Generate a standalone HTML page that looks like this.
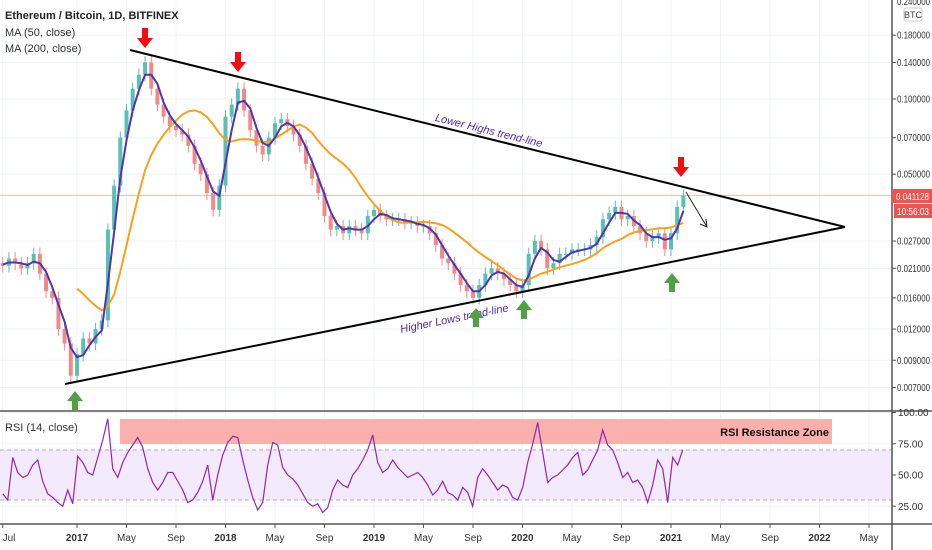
<!DOCTYPE html>
<html><head><meta charset="utf-8"><style>
html,body{margin:0;padding:0;background:#fff;}
svg{display:block;font-family:"Liberation Sans",sans-serif;}
</style></head><body>
<svg id="c" width="932" height="550"></svg>
<script>
// ---- data ----
const startMonth = -6.5; // months from Jan 2017, half-month steps
const closes = [0.022,0.0215,0.023,0.022,0.021,0.022,0.024,0.020,0.017,0.016,0.012,0.0105,0.0078,0.0095,0.011,0.0105,0.012,0.013,0.030,0.045,0.07,0.09,0.11,0.125,0.14,0.11,0.095,0.085,0.078,0.075,0.072,0.065,0.055,0.05,0.042,0.036,0.045,0.085,0.095,0.11,0.09,0.075,0.065,0.06,0.07,0.08,0.083,0.078,0.072,0.065,0.055,0.048,0.042,0.034,0.03,0.031,0.029,0.031,0.030,0.029,0.034,0.036,0.034,0.033,0.033,0.033,0.032,0.032,0.031,0.031,0.029,0.026,0.023,0.022,0.020,0.018,0.017,0.016,0.018,0.020,0.021,0.020,0.019,0.018,0.017,0.018,0.024,0.027,0.025,0.021,0.022,0.024,0.024,0.025,0.025,0.025,0.026,0.028,0.033,0.035,0.037,0.033,0.034,0.031,0.029,0.027,0.028,0.029,0.025,0.029,0.037,0.041];
const rsiStart = -6.0, rsiStep = 0.404;
const rsiValues = [35,30,64,52,48,50,58,62,45,35,32,28,25,38,27,65,60,52,50,64,78,95,55,48,60,68,74,80,72,55,44,38,44,52,52,45,38,28,30,36,45,58,30,50,66,76,81,80,62,46,32,22,28,58,76,74,56,50,47,42,35,28,25,27,20,24,38,46,42,40,50,55,62,70,82,60,52,55,62,56,52,48,50,52,48,42,34,38,45,36,34,30,40,36,25,48,55,50,44,38,42,40,32,30,40,60,75,92,68,44,48,50,54,58,64,68,50,54,62,70,86,74,70,60,48,52,44,46,40,28,42,62,55,28,64,58,70];
const priceTicks = [0.18,0.14,0.1,0.07,0.05,0.027,0.021,0.016,0.012,0.009,0.007];
const priceTickLabels = ["0.180000","0.140000","0.100000","0.070000","0.050000","0.027000","0.021000","0.016000","0.012000","0.009000","0.007000"];
const rsiTicks = [100,75,50,25];
const timeTickMonths = [-6,0,4,8,12,16,20,24,28,32,36,40,44,48,52,56,60,64];
const timeTickLabels = ["Jul","2017","May","Sep","2018","May","Sep","2019","May","Sep","2020","May","Sep","2021","May","Sep","2022","May"];
const lastPrice = 0.041128;

// ---- axes ----
const xM = m => 77 + m*12.375;
const yP = v => 99 - 108.5*Math.log(v/0.1);
const yR = v => 475 - (v-50)*1.25;
const NS="http://www.w3.org/2000/svg";
const svg=document.getElementById('c');
function mk(tag,attrs,parent){const e=document.createElementNS(NS,tag);for(const k in attrs)e.setAttribute(k,attrs[k]);(parent||svg).appendChild(e);return e;}
function txt(s,attrs){const e=mk('text',attrs);e.textContent=s;return e;}

// grid
priceTicks.forEach((v,i)=>{const l=mk('line',{x1:0,x2:892,y1:yP(v),y2:yP(v),stroke:'#f0f3fa'});

});
timeTickMonths.forEach(m=>{const l=mk('line',{x1:xM(m),x2:xM(m),y1:0,y2:524,stroke:'#f0f3fa'});

});
rsiTicks.forEach(v=>{const l=mk('line',{x1:0,x2:892,y1:yR(v),y2:yR(v),stroke:'#f0f3fa'});

});

// RSI band
const band=mk('rect',{x:0,y:yR(70),width:892,height:yR(30)-yR(70),fill:'#f3eafd'});


[70,30].forEach(v=>{const l=mk('line',{x1:0,x2:892,y1:yR(v),y2:yR(v),stroke:'#b9a6c9','stroke-dasharray':'4 3'});

});
const zone=mk('rect',{x:120,y:yR(94.8),width:712,height:yR(74.8)-yR(94.8),fill:'#fbb0ad'});


const zt=txt('RSI Resistance Zone',{x:829,y:436,'text-anchor':'end','font-size':11,'font-weight':'bold',fill:'#111'});



// last price line
const lp=mk('line',{x1:0,x2:892,y1:yP(lastPrice),y2:yP(lastPrice),stroke:'#f5b5b5'});



// candles
closes.forEach((c,i)=>{
  const o = i>0?closes[i-1]:c;
  const hi=Math.max(o,c)*1.06, lo=Math.min(o,c)*0.94;
  const x=xM(startMonth+i*0.5);
  const col=c>=o?'#5bbfb3':'#f08a88';
  const w=mk('line',{x1:x,x2:x,y1:yP(hi),y2:yP(lo),stroke:col,'stroke-width':1});
  
  
  const y1=yP(Math.max(o,c)),y2=yP(Math.min(o,c));
  const b=mk('rect',{x:x-2,y:y1,width:4,height:Math.max(1,y2-y1),fill:col});
  
  
});

// moving averages
function ma(n,from){let pts=[];for(let i=from;i<closes.length;i++){let s=0,k=0;for(let j=Math.max(0,i-n+1);j<=i;j++){s+=closes[j];k++;}pts.push(xM(startMonth+i*0.5)+','+yP(s/k));}return pts.join(' ');}
const m200=mk('polyline',{points:ma(13,13),fill:'none',stroke:'#f7a21b','stroke-width':2});


const m50=mk('polyline',{points:ma(3,1),fill:'none',stroke:'#4f35b0','stroke-width':2});



// RSI line
const rp=rsiValues.map((v,i)=>xM(rsiStart+i*rsiStep)+','+yR(v)).join(' ');
const rl=mk('polyline',{points:rp,fill:'none',stroke:'#9226b5','stroke-width':1.2});



// trend lines
const tu=mk('line',{x1:130,y1:50,x2:845,y2:227,stroke:'#000','stroke-width':2});


const tl=mk('line',{x1:65,y1:384,x2:845,y2:227,stroke:'#000','stroke-width':2});


const ar=mk('path',{d:'M686,192 L707,227 M700,224 L707,227 L706,219',fill:'none',stroke:'#222','stroke-width':1});


const t1=txt('Lower Highs trend-line',{x:0,y:0,'font-size':11,'font-style':'italic',fill:'#4a2ea8',transform:'translate(488,134) rotate(13.9)','text-anchor':'middle'});


const t2=txt('Higher Lows trend-line',{x:0,y:0,'font-size':11,'font-style':'italic',fill:'#4a2ea8',transform:'translate(455,322) rotate(-11.4)','text-anchor':'middle'});



// arrows
function down(x,y){const p=mk('path',{d:`M${x-3},${y} h6 v10 h5 l-8,10 l-8,-10 h5 z`,fill:'#f40d0d'});

}
function up(x,y){const p=mk('path',{d:`M${x},${y} l8,10 h-5 v9 h-6 v-9 h-5 z`,fill:'#52a046'});

}
down(145,28);down(238,52);down(681,157);
up(75,391);up(476,308);up(524,300);up(672,273);

// panel separators / axes
const sep=mk('line',{x1:0,x2:932,y1:411,y2:411,stroke:'#555','stroke-width':1.5});


const xa=mk('line',{x1:0,x2:932,y1:524,y2:524,stroke:'#555','stroke-width':1.5});


const ya=mk('line',{x1:892,x2:892,y1:0,y2:550,stroke:'#555','stroke-width':1.5});



// price labels
priceTicks.forEach((v,i)=>{mk('line',{x1:892,x2:896,y1:yP(v),y2:yP(v),stroke:'#555'});
const t=txt(priceTickLabels[i],{x:897,y:yP(v)+3.5,'font-size':10,fill:'#333',textLength:33,lengthAdjust:'spacingAndGlyphs'});

});
const topLabel=txt('0.240000',{x:897,y:5,'font-size':10,fill:'#333',textLength:33,lengthAdjust:'spacingAndGlyphs'});


const bb=mk('rect',{x:904,y:8,width:18,height:13,fill:'#fff',stroke:'#ccc',rx:2});


txt('BTC',{x:913,y:18,'font-size':9,fill:'#444','text-anchor':'middle'});
rsiTicks.forEach(v=>{mk('line',{x1:892,x2:896,y1:yR(v),y2:yR(v),stroke:'#555'});
const t=txt(v.toFixed(2),{x:898,y:yR(v)+3.5,'font-size':10,fill:'#333'});

});
const pl=mk('rect',{x:892,y:189,width:40,height:14,fill:'#ef5350'});


txt(lastPrice.toFixed(6),{x:896,y:200,'font-size':10,fill:'#fff',textLength:33,lengthAdjust:'spacingAndGlyphs'});
const cl=mk('rect',{x:894,y:204,width:38,height:14,fill:'#ef5350'});


txt('10:56:03',{x:897,y:215,'font-size':10,fill:'#fff',textLength:32,lengthAdjust:'spacingAndGlyphs'});

// time labels
timeTickMonths.forEach((m,i)=>{mk('line',{x1:xM(m),x2:xM(m),y1:524,y2:528,stroke:'#555'});
const yr=/^\d{4}$/.test(timeTickLabels[i]);
const t=txt(timeTickLabels[i],{x:Math.max(9,xM(m)),y:541,'font-size':10,fill:'#333','text-anchor':'middle','font-weight':yr?'bold':'normal'});

});

// legend
const lg1=txt('Ethereum / Bitcoin, 1D, BITFINEX',{x:5,y:19,'font-size':11,fill:'#222','font-weight':'bold'});


const lg2=txt('MA (50, close)',{x:5,y:36,'font-size':11,fill:'#333'});


const lg3=txt('MA (200, close)',{x:5,y:52,'font-size':11,fill:'#333'});


const lg4=txt('RSI (14, close)',{x:5,y:431,'font-size':11,fill:'#333'});


</script>
</body></html>
